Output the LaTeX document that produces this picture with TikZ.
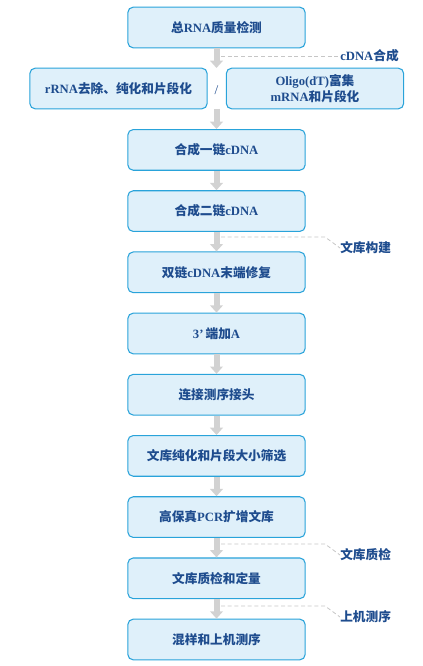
\documentclass[tikz,border=0pt]{standalone}
\usepackage{fontspec}
\setmainfont{Liberation Serif}
\newfontfamily\cjk{Noto Sans CJK SC}
\newcommand\zh[1]{{\cjk #1}}
\usetikzlibrary{arrows.meta}
\definecolor{boxline}{HTML}{29A3DA}
\definecolor{boxfill}{HTML}{DFF0FA}
\definecolor{ink}{HTML}{1E4C8E}
\definecolor{flowgray}{HTML}{D2D2D2}
\definecolor{leadgray}{HTML}{C6C6C6}

\begin{document}
\begin{tikzpicture}[x=0.75pt,y=-0.75pt,
    box/.style={draw=boxline, fill=boxfill, rounded corners=4pt, line width=0.8pt,
        minimum width=133pt, minimum height=30.5pt, inner sep=0pt, align=center,
        text=ink, font=\bfseries\fontsize{9.5}{11.5}\selectfont},
    flow/.style={draw=flowgray, line width=4.5pt, -{Triangle[width=9.5pt,length=5.5pt]}},
    lead/.style={draw=leadgray, dash pattern=on 3pt off 2pt, line width=0.6pt},
    tag/.style={anchor=west, inner sep=0pt, text=ink, font=\bfseries\fontsize{9.5}{11.5}\selectfont}]
        \useasboundingbox (0,0) rectangle (423,666);

        \node[box] (b0) at (216.5,27.5) {\zh{总}RNA\zh{质量检测}};
        \node[box] (rl) at (118.5,88.5) {rRNA\zh{去除、纯化和片段化}};
        \node[box] (rr) at (315,88.5) {Oligo(dT)\zh{富集}\\mRNA\zh{和片段化}};
        \node[text=ink, font=\fontsize{10}{12}\selectfont] (sl) at (216.5,90) {/};
        \coordinate (gapin) at (216.5,68);
        \coordinate (gapout) at (216.5,109);

        \foreach \k/\t in {2/{\zh{合成一链}cDNA}, 3/{\zh{合成二链}cDNA},
                4/{\zh{双链}cDNA\zh{末端修复}}, 5/{3’\,\zh{端加}A},
                6/{\zh{连接测序接头}}, 7/{\zh{文库纯化和片段大小筛选}},
                8/{\zh{高保真}PCR\zh{扩增文库}}, 9/{\zh{文库质检和定量}},
                10/{\zh{混样和上机测序}}} {
            \node[box] (b\k) at (216.5,27.5+61.2*\k) {\t};
        }

        \draw[flow] (b0.south) -- (gapin);
        \draw[flow] (gapout) -- (b2.north);
        \foreach \k [evaluate=\k as \n using int(\k+1)] in {2,...,9} {
            \draw[flow] (b\k.south) -- (b\n.north);
        }

        \node[tag] (t0) at (340,56) {cDNA\zh{合成}};
        \node[tag] (t1) at (340,248) {\zh{文库构建}};
        \node[tag] (t2) at (340,555) {\zh{文库质检}};
        \node[tag] (t3) at (340,617) {\zh{上机测序}};
        \draw[lead] (221,56) -- (t0.west);
        \draw[lead] (221,237) -- (325,237) -- (t1.west);
        \draw[lead] (221,544) -- (325,544) -- (t2.west);
        \draw[lead] (221,606) -- (325,606) -- (t3.west);

\end{tikzpicture}
\end{document}
